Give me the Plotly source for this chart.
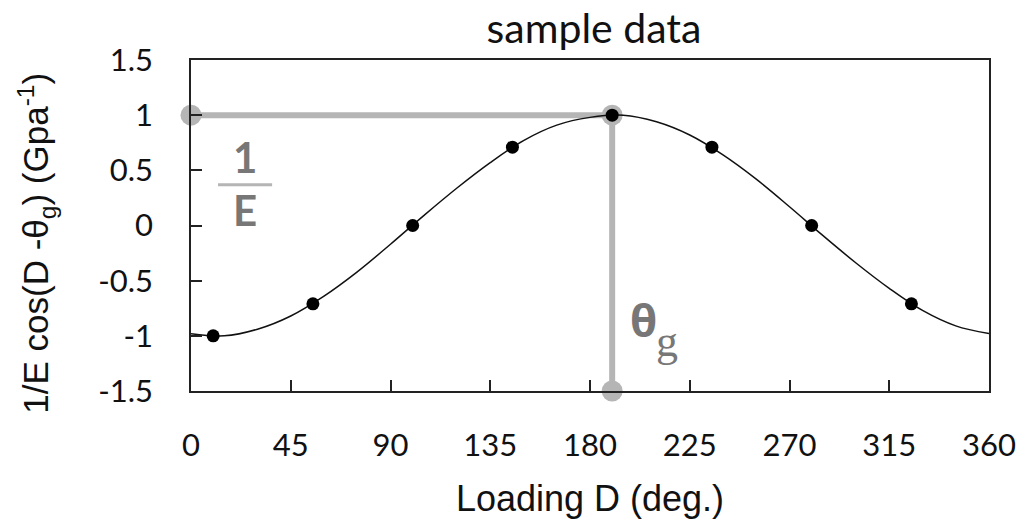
import plotly.graph_objects as go

# ---- data ----
sample_x = [10, 55, 100, 145, 190, 235, 280, 325]
sample_y = [-1.0, -0.71, 0.0, 0.71, 1.0, 0.71, 0.0, -0.71]

curve_x = [0, 15, 30, 45, 60, 75, 90, 105, 120, 135, 150, 165, 180,
           195, 210, 225, 240, 255, 270, 285, 300, 315, 330, 345, 360]
curve_y = [-0.98, -1.0, -0.94, -0.82, -0.64, -0.42, -0.17, 0.09, 0.34, 0.57, 0.77, 0.91, 0.98,
           1.0, 0.94, 0.82, 0.64, 0.42, 0.17, -0.09, -0.34, -0.57, -0.77, -0.91, -0.98]

guide_x = [0, 190, 190]
guide_y = [1.0, 1.0, -1.5]

x_ticks = [0, 45, 90, 135, 180, 225, 270, 315, 360]
x_tick_labels = ["0", "45", "90", "135", "180", "225", "270", "315", "360"]
y_ticks = [-1.5, -1, -0.5, 0, 0.5, 1, 1.5]
y_tick_labels = ["-1.5", "-1", "-0.5", "0", "0.5", "1", "1.5"]

GUIDE = "#b5b5b5"
LABEL = "#777777"
AX = "#222222"

fig = go.Figure()
fig.add_trace(go.Scatter(x=guide_x, y=guide_y, mode="lines+markers",
                         line=dict(color=GUIDE, width=6),
                         marker=dict(color=GUIDE, size=21),
                         cliponaxis=False, showlegend=False, hoverinfo="skip"))
fig.add_trace(go.Scatter(x=curve_x, y=curve_y, mode="lines",
                         line=dict(color="#111111", width=1.5, shape="spline"),
                         showlegend=False))
fig.add_trace(go.Scatter(x=sample_x, y=sample_y, mode="markers",
                         marker=dict(color="#000000", size=13),
                         cliponaxis=False, showlegend=False))

# 1/E fraction label
fig.add_annotation(x=24.4, y=0.62, text="<b>1</b>", showarrow=False,
                   font=dict(family="Lato", size=42, color=LABEL),
                   xanchor="center", yanchor="middle")
fig.add_annotation(x=24.4, y=0.145, text="<b>E</b>", showarrow=False,
                   font=dict(family="Lato", size=42, color=LABEL),
                   xanchor="center", yanchor="middle")
fig.add_shape(type="line", x0=12.2, x1=36.6, y0=0.37, y1=0.37,
              line=dict(color=GUIDE, width=3))

# theta_g label
fig.add_annotation(x=204.3, y=-0.86, text="<b>θ</b>", showarrow=False,
                   font=dict(family="Open Sans", size=44, color=LABEL),
                   xanchor="center", yanchor="middle")
fig.add_annotation(x=214.7, y=-1.05, text="g", showarrow=False,
                   font=dict(family="Liberation Serif", size=44, color=LABEL),
                   xanchor="center", yanchor="middle")

# y-axis title (placed as annotation to match the reference offset)
fig.add_annotation(x=-0.194, y=0.4456, xref="paper", yref="paper",
                   text="1/E cos(D -θ<sub>g</sub>) (Gpa<sup>-1</sup>)", textangle=-90,
                   showarrow=False, xanchor="center", yanchor="middle",
                   font=dict(family="Liberation Sans", size=35, color="#111111"))

fig.update_layout(
    width=1033, height=523,
    margin=dict(l=191, r=44, t=60, b=132),
    paper_bgcolor="white", plot_bgcolor="white",
    title=dict(text="sample data", x=0.575, xanchor="center", y=0.946, yanchor="middle",
               yref="container", font=dict(family="Lato", size=41, color="#111111")),
    xaxis=dict(range=[0, 360], tickvals=x_ticks, ticktext=x_tick_labels,
               showline=True, mirror=True, linecolor=AX, linewidth=1.5,
               ticks="inside", ticklen=11, tickwidth=1.5, tickcolor=AX,
               showgrid=False, zeroline=False, ticklabelstandoff=26,
               tickfont=dict(family="Lato", size=31, color="#111111"),
               title=dict(text="Loading D (deg.)", standoff=24,
                          font=dict(family="Liberation Sans", size=36, color="#111111"))),
    yaxis=dict(range=[-1.5, 1.5], tickvals=y_ticks, ticktext=y_tick_labels,
               showline=True, mirror=True, linecolor=AX, linewidth=1.5,
               ticks="inside", ticklen=11, tickwidth=1.5, tickcolor=AX,
               showgrid=False, zeroline=False, ticklabelstandoff=30,
               tickfont=dict(family="Lato", size=31, color="#111111")),
)

fig.write_html("out.html")
